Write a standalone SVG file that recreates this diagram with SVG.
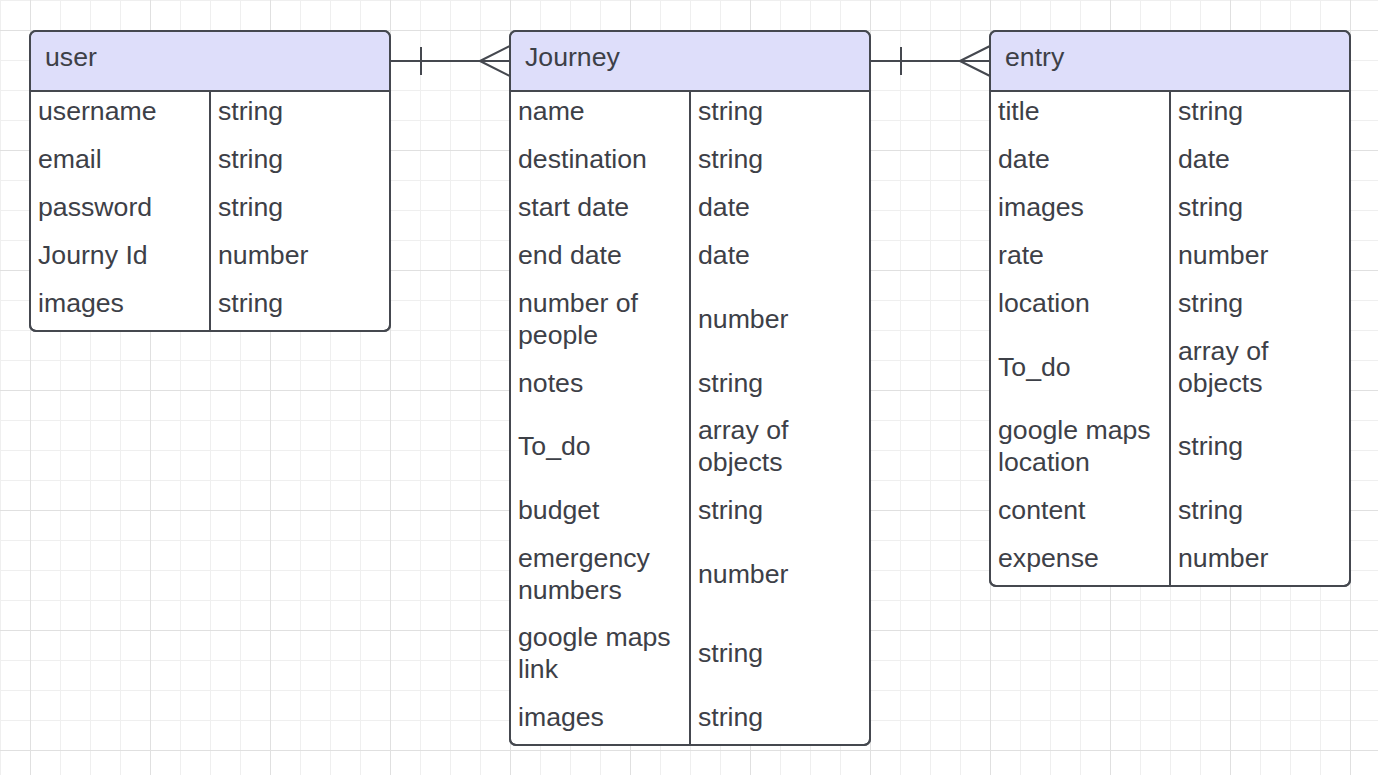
<svg xmlns="http://www.w3.org/2000/svg" width="1378" height="775" viewBox="0 0 1378 775">
<defs>
<pattern id="minor" x="0" y="0" width="30" height="30" patternUnits="userSpaceOnUse">
<path d="M0.5 0V30M0 0.5H30" stroke="#efefef" stroke-width="1" fill="none"/>
</pattern>
<pattern id="major" x="30" y="30" width="120" height="120" patternUnits="userSpaceOnUse">
<path d="M0.5 0V120M0 0.5H120" stroke="#e0e0e0" stroke-width="1" fill="none"/>
</pattern>
<style>
.box{fill:#ffffff;stroke:#45484f;stroke-width:2}
.hdr{fill:#dedefa}
.ln{stroke:#45484f;stroke-width:2;fill:none}
.t{font-family:"Liberation Sans",Arial,sans-serif;font-size:26.67px;fill:#3d4047}
.conn{stroke:#45484f;stroke-width:2;fill:none}
</style>
</defs>
<rect width="1378" height="775" fill="#ffffff"/>
<rect width="1378" height="775" fill="url(#minor)"/>
<rect width="1378" height="775" fill="url(#major)"/>

<g id="connectors">
<path class="conn" d="M390 61H510M421 47V75M480 61L510 46M480 61L510 76"/>
<path class="conn" d="M870 61H990M901 47V75M960 61L990 46M960 61L990 76"/>
</g>

<g id="user">
<rect class="box" x="30" y="31" width="360" height="300" rx="6"/>
<path class="hdr" d="M36 32H384A5 5 0 0 1 389 37V90H31V37A5 5 0 0 1 36 32Z"/>
<path class="ln" d="M30 91H390M210 91V331"/>
<rect class="box" x="30" y="31" width="360" height="300" rx="6" fill="none" style="fill:none"/>
<text class="t" x="45" y="66">user</text>
<text class="t" x="38" y="120">username</text><text class="t" x="218" y="120">string</text>
<text class="t" x="38" y="168">email</text><text class="t" x="218" y="168">string</text>
<text class="t" x="38" y="216">password</text><text class="t" x="218" y="216">string</text>
<text class="t" x="38" y="264">Journy Id</text><text class="t" x="218" y="264">number</text>
<text class="t" x="38" y="312">images</text><text class="t" x="218" y="312">string</text>
</g>

<g id="journey">
<rect class="box" x="510" y="31" width="360" height="714" rx="6"/>
<path class="hdr" d="M516 32H864A5 5 0 0 1 869 37V90H511V37A5 5 0 0 1 516 32Z"/>
<path class="ln" d="M510 91H870M690 91V745"/>
<rect class="box" x="510" y="31" width="360" height="714" rx="6" style="fill:none"/>
<text class="t" x="525" y="66">Journey</text>
<text class="t" x="518" y="120">name</text><text class="t" x="698" y="120">string</text>
<text class="t" x="518" y="168">destination</text><text class="t" x="698" y="168">string</text>
<text class="t" x="518" y="216">start date</text><text class="t" x="698" y="216">date</text>
<text class="t" x="518" y="264">end date</text><text class="t" x="698" y="264">date</text>
<text class="t" x="518" y="311.7">number of</text><text class="t" x="518" y="343.7">people</text><text class="t" x="698" y="327.7">number</text>
<text class="t" x="518" y="391.5">notes</text><text class="t" x="698" y="391.5">string</text>
<text class="t" x="518" y="455.2">To_do</text><text class="t" x="698" y="439.2">array of</text><text class="t" x="698" y="471.2">objects</text>
<text class="t" x="518" y="519">budget</text><text class="t" x="698" y="519">string</text>
<text class="t" x="518" y="566.7">emergency</text><text class="t" x="518" y="598.7">numbers</text><text class="t" x="698" y="582.7">number</text>
<text class="t" x="518" y="646.2">google maps</text><text class="t" x="518" y="678.2">link</text><text class="t" x="698" y="662.2">string</text>
<text class="t" x="518" y="726">images</text><text class="t" x="698" y="726">string</text>
</g>

<g id="entry">
<rect class="box" x="990" y="31" width="360" height="555" rx="6"/>
<path class="hdr" d="M996 32H1344A5 5 0 0 1 1349 37V90H991V37A5 5 0 0 1 996 32Z"/>
<path class="ln" d="M990 91H1350M1170 91V586"/>
<rect class="box" x="990" y="31" width="360" height="555" rx="6" style="fill:none"/>
<text class="t" x="1005" y="66">entry</text>
<text class="t" x="998" y="120">title</text><text class="t" x="1178" y="120">string</text>
<text class="t" x="998" y="168">date</text><text class="t" x="1178" y="168">date</text>
<text class="t" x="998" y="216">images</text><text class="t" x="1178" y="216">string</text>
<text class="t" x="998" y="264">rate</text><text class="t" x="1178" y="264">number</text>
<text class="t" x="998" y="312">location</text><text class="t" x="1178" y="312">string</text>
<text class="t" x="998" y="375.7">To_do</text><text class="t" x="1178" y="359.7">array of</text><text class="t" x="1178" y="391.7">objects</text>
<text class="t" x="998" y="439.2">google maps</text><text class="t" x="998" y="471.2">location</text><text class="t" x="1178" y="455.2">string</text>
<text class="t" x="998" y="519">content</text><text class="t" x="1178" y="519">string</text>
<text class="t" x="998" y="567">expense</text><text class="t" x="1178" y="567">number</text>
</g>
</svg>
